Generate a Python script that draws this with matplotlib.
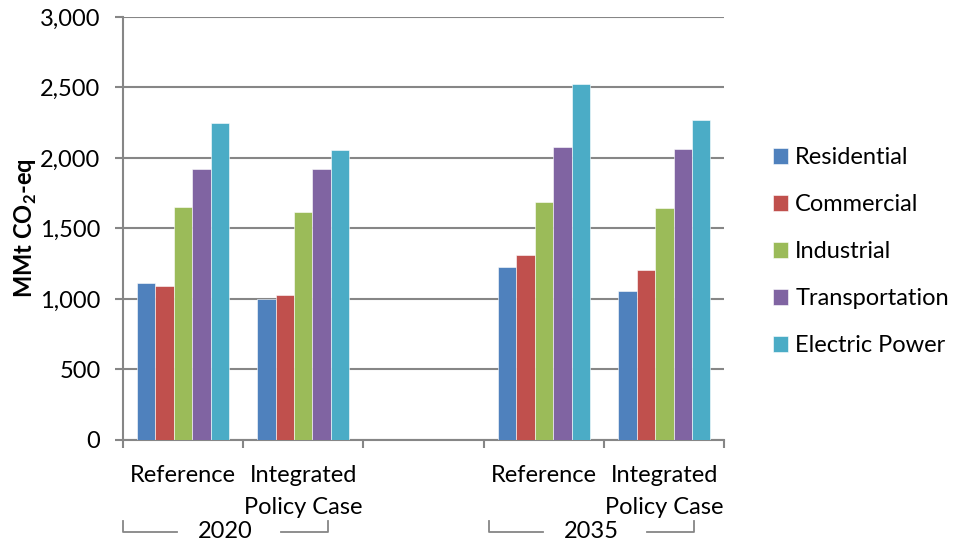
import numpy as np
import matplotlib
matplotlib.use("Agg")
import matplotlib.pyplot as plt
from matplotlib.transforms import blended_transform_factory

# Emissions by sector, MMt CO2-eq
categories = ["Reference", "Integrated\nPolicy Case", "", "Reference", "Integrated\nPolicy Case"]
sectors = ["Residential", "Commercial", "Industrial", "Transportation", "Electric Power"]
residential = [1115, 1000, np.nan, 1225, 1055]
commercial = [1090, 1030, np.nan, 1310, 1205]
industrial = [1650, 1620, np.nan, 1685, 1645]
transportation = [1920, 1920, np.nan, 2075, 2065]
electric_power = [2245, 2055, np.nan, 2525, 2270]
years = ["2020", "2035"]
year_spans = [(-0.5, 1.21), (2.54, 4.25)]

yticks = [0, 500, 1000, 1500, 2000, 2500, 3000]
colors = ["#4F81BD", "#C0504D", "#9BBB59", "#8064A2", "#4BACC6"]
grid_gray = "#868686"

plt.rcParams["font.family"] = ["Lato", "DejaVu Sans"]
plt.rcParams["mathtext.fontset"] = "custom"
plt.rcParams["mathtext.rm"] = "Lato"
plt.rcParams["mathtext.bf"] = "Lato:bold"
fs = 17

fig = plt.figure(figsize=(9.54, 5.44), dpi=100)
ax = fig.add_axes([0.1286, 0.1912, 0.6308, 0.7776])

series = [residential, commercial, industrial, transportation, electric_power]
x = np.arange(len(categories))
w = 0.1535
for i, (name, vals, c) in enumerate(zip(sectors, series, colors)):
    ax.bar(x + (i - 2) * w, vals, width=w, color=c, label=name, zorder=3,
           edgecolor="#ffffff", linewidth=0.4)

ax.set_xlim(-0.5, len(categories) - 0.5)
ax.set_ylim(0, 3000)
ax.set_yticks(yticks)
ax.set_yticklabels([f"{v:,}" for v in yticks], fontsize=fs)
ax.yaxis.grid(True, color=grid_gray, linewidth=1.5, zorder=0)
ax.set_axisbelow(True)

# labels sit at category centres, tick marks at the boundaries
ax.set_xticks(x)
ax.set_xticklabels(categories, fontsize=fs, linespacing=1.65)
ax.set_xticks(np.arange(len(categories) + 1) - 0.5, minor=True)
ax.tick_params(axis="x", which="major", length=0, pad=18)
ax.tick_params(axis="x", which="minor", length=6, width=1.5, color=grid_gray)
ax.tick_params(axis="y", length=6, width=1.5, color=grid_gray, pad=10)

for s in ["top", "right"]:
    ax.spines[s].set_visible(False)
for s in ["left", "bottom"]:
    ax.spines[s].set_color(grid_gray)
    ax.spines[s].set_linewidth(1.5)

ax.set_ylabel(r"MMt CO$_\mathbf{2}$-eq", fontsize=fs, fontweight="bold", labelpad=1)

# year group labels with bracket lines below the category labels
trans = blended_transform_factory(ax.transData, fig.transFigure)
y_line = 1 - 532 / 544
y_top = 1 - 521 / 544
for year, (x0, x1) in zip(years, year_spans):
    xc = (x0 + x1) / 2
    ax.plot([x0, x0, xc - 0.4], [y_top, y_line, y_line], transform=trans,
            color=grid_gray, linewidth=1.3, clip_on=False)
    ax.plot([xc + 0.46, x1, x1], [y_line, y_line, y_top], transform=trans,
            color=grid_gray, linewidth=1.3, clip_on=False)
    ax.text(xc, 1 - 531 / 544, year, transform=trans, fontsize=fs,
            ha="center", va="center")

fig.legend(loc="center left", bbox_to_anchor=(0.8103, 0.537), frameon=False,
           fontsize=fs, handlelength=0.64, handleheight=0.64, handletextpad=0.3,
           labelspacing=1.1, borderpad=0, borderaxespad=0)

fig.savefig("out.png", dpi=100)
